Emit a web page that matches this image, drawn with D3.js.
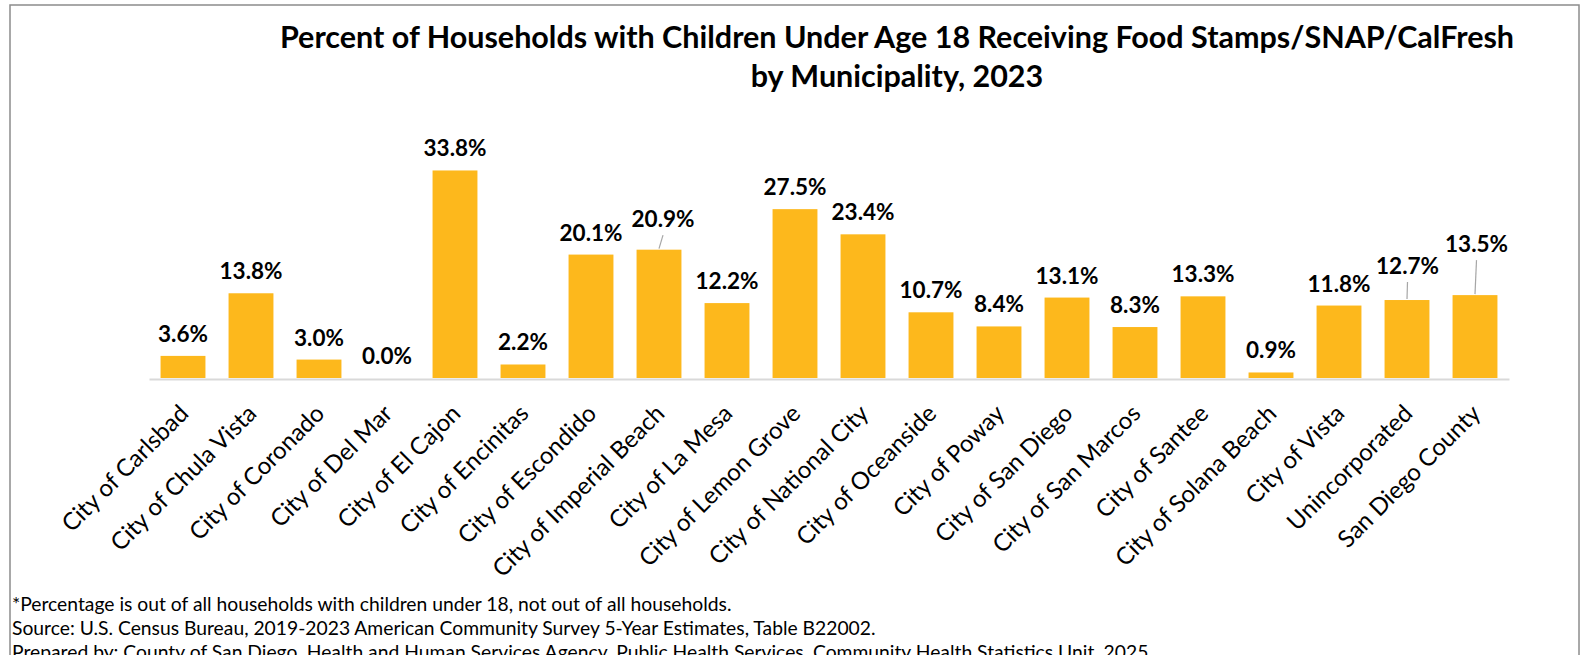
<!DOCTYPE html>
<html>
<head>
<meta charset="utf-8">
<script src="https://d3js.org/d3.v7.min.js"></script>
<style>
  body { margin: 0; background: #fff; }
  svg { display: block; font-family: Lato, "Open Sans", sans-serif; }
</style>
</head>
<body>
<div id="chart"></div>
<script>
// Data
var categories = ["City of Carlsbad", "City of Chula Vista", "City of Coronado", "City of Del Mar",
  "City of El Cajon", "City of Encinitas", "City of Escondido", "City of Imperial Beach",
  "City of La Mesa", "City of Lemon Grove", "City of National City", "City of Oceanside",
  "City of Poway", "City of San Diego", "City of San Marcos", "City of Santee",
  "City of Solana Beach", "City of Vista", "Unincorporated", "San Diego County"];
var values = [3.6, 13.8, 3.0, 0.0, 33.8, 2.2, 20.1, 20.9, 12.2, 27.5, 23.4, 10.7,
  8.4, 13.1, 8.3, 13.3, 0.9, 11.8, 12.7, 13.5];
var titleLines = ["Percent of Households with Children Under Age 18 Receiving Food Stamps/SNAP/CalFresh",
  "by Municipality, 2023"];
var notes = ["*Percentage is out of all households with children under 18, not out of all households.",
  "Source: U.S. Census Bureau, 2019-2023 American Community Survey 5-Year Estimates, Table B22002.",
  "Prepared by: County of San Diego, Health and Human Services Agency, Public Health Services, Community Health Statistics Unit, 2025."];

var svgWidth = 1583, svgHeight = 655;
var data = categories.map(function(c, i) { return { name: c, value: values[i] }; });

var svg = d3.select("#chart").append("svg")
  .attr("width", svgWidth)
  .attr("height", svgHeight);

// outer chart border
svg.append("rect")
  .attr("x", 10).attr("y", 5)
  .attr("width", 1569).attr("height", 700)
  .attr("fill", "none")
  .attr("stroke", "#8c8c8c")
  .attr("stroke-width", 1.5);

// title
svg.selectAll(".title")
  .data(titleLines)
  .enter().append("text")
  .attr("class", "title")
  .attr("x", 897)
  .attr("y", function(d, i) { return 47.5 + i * 39.5; })
  .attr("text-anchor", "middle")
  .style("font-size", "30.5px")
  .style("font-weight", "bold")
  .attr("fill", "#000")
  .text(function(d) { return d; });

var xScale = d3.scaleBand()
  .domain(categories)
  .range([149, 1509])
  .paddingInner(0.34)
  .paddingOuter(0.17);

var yScale = d3.scaleLinear()
  .domain([0, 40])
  .range([378, 378 - 245.6]);

var chart = svg.append("g");

chart.selectAll("rect.bar")
  .data(data)
  .enter().append("rect")
  .attr("class", "bar")
  .attr("x", function(d) { return xScale(d.name); })
  .attr("y", function(d) { return yScale(d.value); })
  .attr("width", xScale.bandwidth())
  .attr("height", function(d) { return yScale(0) - yScale(d.value); })
  .attr("fill", "#fdb81c");

// category axis
var bottomAxis = d3.axisBottom(xScale).tickSize(0).tickPadding(0);
var axisG = chart.append("g")
  .attr("transform", "translate(0," + (yScale(0) + 1) + ")")
  .call(bottomAxis);
axisG.select(".domain")
  .attr("stroke", "#d9d9d9")
  .attr("stroke-width", 2);
axisG.selectAll(".tick text")
  .attr("fill", "#000")
  .style("font-size", "24px")
  .style("font-family", "Lato, 'Open Sans', sans-serif")
  .attr("text-anchor", "end")
  .attr("y", 0).attr("dy", 0)
  .attr("transform", "translate(7,36) rotate(-45)");

// data labels; a few are pulled up with leader lines
var moved = {
  "City of Imperial Beach": { dx: 4, dy: -8.5 },
  "Unincorporated": { dx: 0.5, dy: -12 },
  "San Diego County": { dx: 1.5, dy: -29 }
};

chart.selectAll("line.leader")
  .data(data.filter(function(d) { return moved[d.name]; }))
  .enter().append("line")
  .attr("class", "leader")
  .attr("x1", function(d) { return xScale(d.name) + xScale.bandwidth() / 2 + moved[d.name].dx; })
  .attr("y1", function(d) { return yScale(d.value) - 14 + moved[d.name].dy + 8; })
  .attr("x2", function(d) { return xScale(d.name) + xScale.bandwidth() / 2; })
  .attr("y2", function(d) { return yScale(d.value) - 1; })
  .attr("stroke", "#a6a6a6")
  .attr("stroke-width", 1.2);

chart.selectAll("text.label")
  .data(data)
  .enter().append("text")
  .attr("class", "label")
  .attr("x", function(d) {
    var m = moved[d.name];
    return xScale(d.name) + xScale.bandwidth() / 2 + (m ? m.dx : 0);
  })
  .attr("y", function(d) {
    var m = moved[d.name];
    return yScale(d.value) - 14 + (m ? m.dy : 0);
  })
  .attr("text-anchor", "middle")
  .style("font-size", "22.5px")
  .style("font-weight", "bold")
  .attr("fill", "#000")
  .text(function(d) { return d.value.toFixed(1) + "%"; });

// footnotes
svg.selectAll(".note")
  .data(notes)
  .enter().append("text")
  .attr("class", "note")
  .attr("x", 12)
  .attr("y", function(d, i) { return 611 + i * 24; })
  .style("font-size", "19.3px")
  .attr("fill", "#000")
  .text(function(d) { return d; });
</script>
</body>
</html>
